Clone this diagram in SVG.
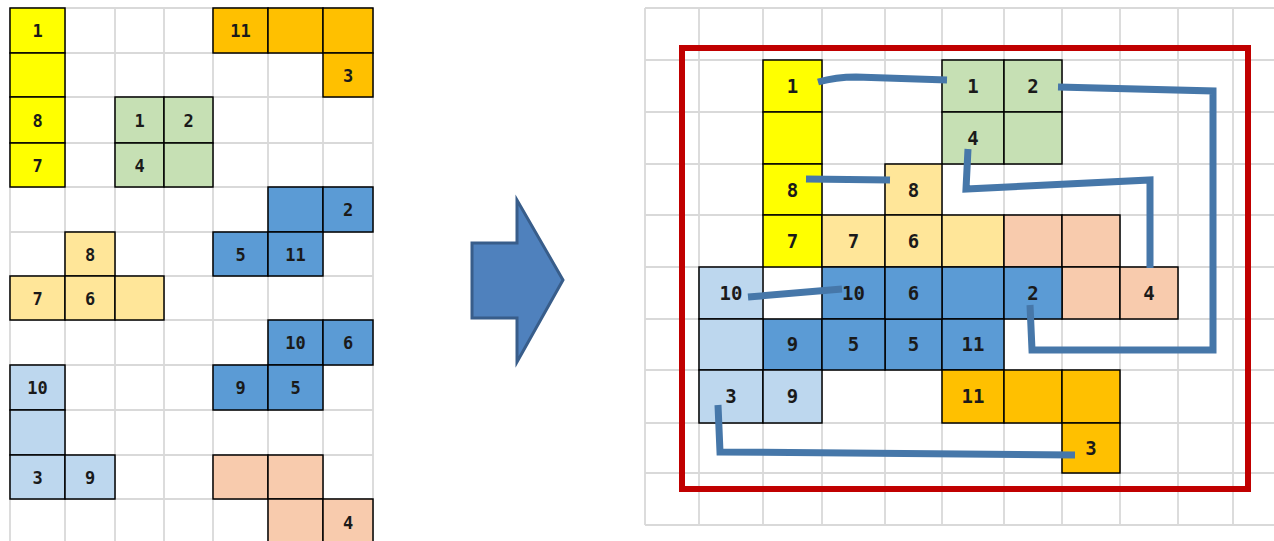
<svg xmlns="http://www.w3.org/2000/svg" width="1274" height="541" viewBox="0 0 1274 541">
<style>
.g{stroke:#d9d9d9;stroke-width:1.8;fill:none}
.c{stroke:#000;stroke-width:1.5}
.y{fill:#ffff00}.o{fill:#ffc000}.gr{fill:#c6e0b4}.b{fill:#5b9bd5}.ly{fill:#ffe699}.lb{fill:#bdd7ee}.p{fill:#f8cbad}
text{font-family:"DejaVu Sans Mono",monospace;font-weight:bold;fill:#1a1a1a;text-anchor:middle}
.tl{font-size:17px}.tr{font-size:19px}
.conn{stroke:#4677a9;stroke-width:7;fill:none;stroke-linejoin:miter}
</style>
<rect width="1274" height="541" fill="#fff"/>
<g id="left-grid" class="g">
<path d="M10,8V541M65,8V541M115,8V541M164,8V541M213,8V541M268,8V541M323,8V541M373,8V541"/>
<path d="M10,8H373M10,53H373M10,97H373M10,143H373M10,187H373M10,232H373M10,276H373M10,320H373M10,365H373M10,410H373M10,455H373M10,499H373"/>
</g>
<g id="right-grid" class="g">
<path d="M645,8V525M699,8V525M763,8V525M822,8V525M885,8V525M942,8V525M1004,8V525M1062,8V525M1120,8V525M1178,8V525M1233,8V525"/>
<path d="M645,8H1274M645,60H1274M645,112H1274M645,164H1274M645,215H1274M645,267H1274M645,319H1274M645,370H1274M645,423H1274M645,473H1274M645,525H1274"/>
</g>
<g id="L-yellow" class="tl">
<rect class="c y" x="10" y="8" width="55" height="45"/><rect class="c y" x="10" y="53" width="55" height="44"/><rect class="c y" x="10" y="97" width="55" height="46"/><rect class="c y" x="10" y="143" width="55" height="44"/>
<text x="37.5" y="36.5">1</text><text x="37.5" y="126.5">8</text><text x="37.5" y="171.5">7</text>
</g>
<g id="L-orange" class="tl">
<rect class="c o" x="213" y="8" width="55" height="45"/><rect class="c o" x="268" y="8" width="55" height="45"/><rect class="c o" x="323" y="8" width="50" height="45"/><rect class="c o" x="323" y="53" width="50" height="44"/>
<text x="240.5" y="36.5">11</text><text x="348" y="81.5">3</text>
</g>
<g id="L-green" class="tl">
<rect class="c gr" x="115" y="97" width="49" height="46"/><rect class="c gr" x="164" y="97" width="49" height="46"/><rect class="c gr" x="115" y="143" width="49" height="44"/><rect class="c gr" x="164" y="143" width="49" height="44"/>
<text x="139.5" y="126.5">1</text><text x="188.5" y="126.5">2</text><text x="139.5" y="171.5">4</text>
</g>
<g id="L-blueA" class="tl">
<rect class="c b" x="268" y="187" width="55" height="45"/><rect class="c b" x="323" y="187" width="50" height="45"/><rect class="c b" x="213" y="232" width="55" height="44"/><rect class="c b" x="268" y="232" width="55" height="44"/>
<text x="348" y="215.5">2</text><text x="240.5" y="260.5">5</text><text x="295.5" y="260.5">11</text>
</g>
<g id="L-lightyellow" class="tl">
<rect class="c ly" x="65" y="232" width="50" height="44"/><rect class="c ly" x="10" y="276" width="55" height="44"/><rect class="c ly" x="65" y="276" width="50" height="44"/><rect class="c ly" x="115" y="276" width="49" height="44"/>
<text x="90" y="260.5">8</text><text x="37.5" y="304.5">7</text><text x="90" y="304.5">6</text>
</g>
<g id="L-blueB" class="tl">
<rect class="c b" x="268" y="320" width="55" height="45"/><rect class="c b" x="323" y="320" width="50" height="45"/><rect class="c b" x="213" y="365" width="55" height="45"/><rect class="c b" x="268" y="365" width="55" height="45"/>
<text x="295.5" y="348.5">10</text><text x="348" y="348.5">6</text><text x="240.5" y="393.5">9</text><text x="295.5" y="393.5">5</text>
</g>
<g id="L-lightblue" class="tl">
<rect class="c lb" x="10" y="365" width="55" height="45"/><rect class="c lb" x="10" y="410" width="55" height="45"/><rect class="c lb" x="10" y="455" width="55" height="44"/><rect class="c lb" x="65" y="455" width="50" height="44"/>
<text x="37.5" y="393.5">10</text><text x="37.5" y="483.5">3</text><text x="90" y="483.5">9</text>
</g>
<g id="L-peach" class="tl">
<rect class="c p" x="213" y="455" width="55" height="44"/><rect class="c p" x="268" y="455" width="55" height="44"/><rect class="c p" x="268" y="499" width="55" height="45"/><rect class="c p" x="323" y="499" width="50" height="45"/>
<text x="348" y="528.5">4</text>
</g>
<g id="arrow">
<polygon points="472,243 517,243 517,200 563,280 517,362 517,318 472,318" fill="#4f81bd" stroke="#385d8a" stroke-width="3" stroke-linejoin="miter"/>
</g>
<g id="boundary">
<rect x="682" y="48" width="566" height="441" fill="none" stroke="#c00000" stroke-width="6"/>
</g>
<g id="R-yellow" class="tr">
<rect class="c y" x="763" y="60" width="59" height="52"/><rect class="c y" x="763" y="112" width="59" height="52"/><rect class="c y" x="763" y="164" width="59" height="51"/><rect class="c y" x="763" y="215" width="59" height="52"/>
<text x="792.5" y="92.5">1</text><text x="792.5" y="196.5">8</text><text x="792.5" y="247.5">7</text>
</g>
<g id="R-green" class="tr">
<rect class="c gr" x="942" y="60" width="62" height="52"/><rect class="c gr" x="1004" y="60" width="58" height="52"/><rect class="c gr" x="942" y="112" width="62" height="52"/><rect class="c gr" x="1004" y="112" width="58" height="52"/>
<text x="973" y="92.5">1</text><text x="1033" y="92.5">2</text><text x="973" y="144.5">4</text>
</g>
<g id="R-lightyellow" class="tr">
<rect class="c ly" x="885" y="164" width="57" height="51"/><rect class="c ly" x="822" y="215" width="63" height="52"/><rect class="c ly" x="885" y="215" width="57" height="52"/><rect class="c ly" x="942" y="215" width="62" height="52"/>
<text x="913.5" y="196.5">8</text><text x="853.5" y="247.5">7</text><text x="913.5" y="247.5">6</text>
</g>
<g id="R-peach" class="tr">
<rect class="c p" x="1004" y="215" width="58" height="52"/><rect class="c p" x="1062" y="215" width="58" height="52"/><rect class="c p" x="1062" y="267" width="58" height="52"/><rect class="c p" x="1120" y="267" width="58" height="52"/>
<text x="1149" y="299.5">4</text>
</g>
<g id="R-blueA" class="tr">
<rect class="c b" x="942" y="267" width="62" height="52"/><rect class="c b" x="1004" y="267" width="58" height="52"/><rect class="c b" x="885" y="319" width="57" height="51"/><rect class="c b" x="942" y="319" width="62" height="51"/>
<text x="1033" y="299.5">2</text><text x="913.5" y="350.5">5</text><text x="973" y="350.5">11</text>
</g>
<g id="R-blueB" class="tr">
<rect class="c b" x="822" y="267" width="63" height="52"/><rect class="c b" x="885" y="267" width="57" height="52"/><rect class="c b" x="763" y="319" width="59" height="51"/><rect class="c b" x="822" y="319" width="63" height="51"/>
<text x="853.5" y="299.5">10</text><text x="913.5" y="299.5">6</text><text x="792.5" y="350.5">9</text><text x="853.5" y="350.5">5</text>
</g>
<g id="R-lightblue" class="tr">
<rect class="c lb" x="699" y="267" width="64" height="52"/><rect class="c lb" x="699" y="319" width="64" height="51"/><rect class="c lb" x="699" y="370" width="64" height="53"/><rect class="c lb" x="763" y="370" width="59" height="53"/>
<text x="731" y="299.5">10</text><text x="731" y="402.5">3</text><text x="792.5" y="402.5">9</text>
</g>
<g id="R-orange" class="tr">
<rect class="c o" x="942" y="370" width="62" height="53"/><rect class="c o" x="1004" y="370" width="58" height="53"/><rect class="c o" x="1062" y="370" width="58" height="53"/><rect class="c o" x="1062" y="423" width="58" height="50"/>
<text x="973" y="402.5">11</text><text x="1091" y="454.5">3</text>
</g>
<g id="connectors" class="conn">
<path d="M818,82 Q836,77 856,77 L947,80"/>
<path d="M806,179 L890,180"/>
<path d="M1058,87 L1213,91 L1213,350 L1032,350 L1030,305"/>
<path d="M968,149 L966,189 L1150,180 L1150,268"/>
<path d="M748,297 L842,289"/>
<path d="M718,405 L720,452 L1075,455"/>
</g>
</svg>
